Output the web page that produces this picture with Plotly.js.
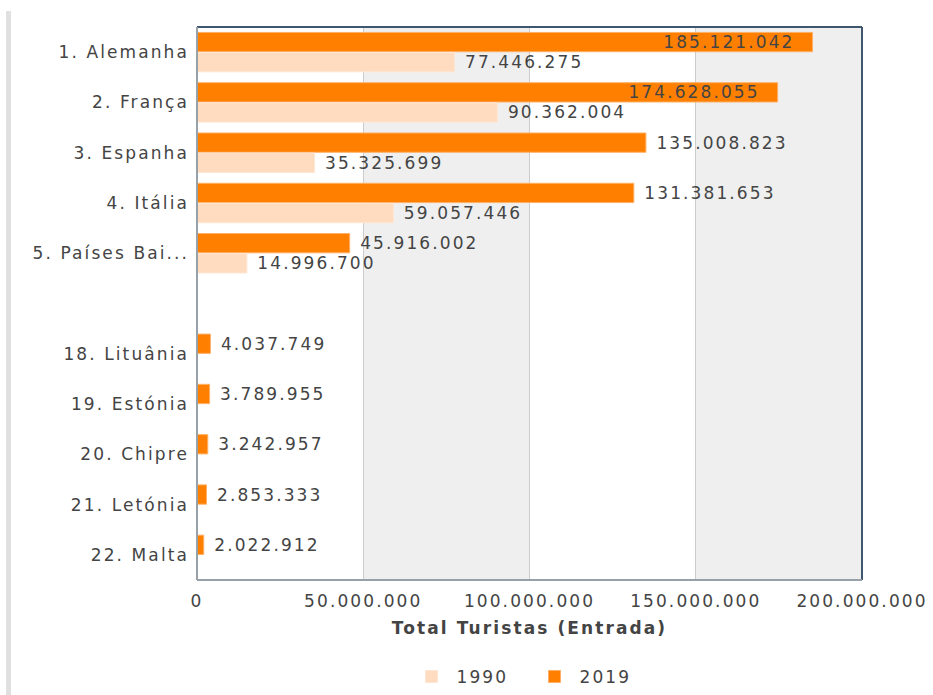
<!DOCTYPE html>
<html>
<head>
<meta charset="utf-8">
<script src="https://cdn.plot.ly/plotly-3.0.1.min.js"></script>
<style>
  html, body { margin: 0; padding: 0; background: #fff; }
  #wrap { position: relative; width: 933px; height: 695px; }
  #stripe { position: absolute; left: 6px; top: 11px; width: 5px; height: 684px; background: #e0e0e0; }
  #chart { position: absolute; left: 0; top: 0; width: 933px; height: 695px; }
  svg text { letter-spacing: 2.1px; }
</style>
</head>
<body>
<div id="wrap"><div id="stripe"></div><div id="chart"></div></div>
<script>
const categories = ['1. Alemanha', '2. França', '3. Espanha', '4. Itália', '5. Países Bai...', '\u00a0',
                    '18. Lituânia', '19. Estónia', '20. Chipre', '21. Letónia', '22. Malta'];
const values2019 = [185121042, 174628055, 135008823, 131381653, 45916002, null,
                    4037749, 3789955, 3242957, 2853333, 2022912];
const values1990 = [77446275, 90362004, 35325699, 59057446, 14996700, null,
                    null, null, null, null, null];
const seriesNames = ['2019', '1990'];
const xTicks = [0, 50000000, 100000000, 150000000, 200000000];

const textColor = '#444444';
const font = { family: 'DejaVu Sans, Verdana, sans-serif', size: 17, color: textColor };

const pos2019 = values2019.map(v => (v !== null && v > 160000000) ? 'inside' : 'outside');
const tmpl2019 = pos2019.map(p => p === 'inside' ? '%{x:,}\u00a0\u00a0' : '\u00a0%{x:,}');

const traces = [
  {
    type: 'bar', orientation: 'h', name: seriesNames[0],
    y: categories, x: values2019,
    marker: { color: '#ff8000', line: { color: '#ffb066', width: 1 } },
    texttemplate: tmpl2019, textposition: pos2019,
    insidetextanchor: 'end', constraintext: 'none',
    textfont: font, insidetextfont: font, outsidetextfont: font,
    cliponaxis: false, hoverinfo: 'x+y'
  },
  {
    type: 'bar', orientation: 'h', name: seriesNames[1],
    y: categories, x: values1990,
    marker: { color: '#ffdcc0', line: { color: '#ffe6d2', width: 1 } },
    texttemplate: '\u00a0%{x:,}', textposition: 'outside', constraintext: 'none',
    textfont: font, outsidetextfont: font,
    cliponaxis: false, hoverinfo: 'x+y'
  }
];

const bandShapes = [
  { x0: 50000000, x1: 100000000 },
  { x0: 150000000, x1: 200000000 }
].map(b => ({
  type: 'rect', xref: 'x', yref: 'paper', x0: b.x0, x1: b.x1, y0: 0, y1: 1,
  fillcolor: '#efefef', line: { width: 0 }, layer: 'below'
}));

const borderShapes = [
  { type: 'line', xref: 'paper', yref: 'paper', x0: 0, x1: 1, y0: 1, y1: 1, line: { color: '#3e566e', width: 2 }, layer: 'above' },
  { type: 'line', xref: 'paper', yref: 'paper', x0: 1, x1: 1, y0: 0, y1: 1, line: { color: '#3e566e', width: 2 }, layer: 'above' },
  { type: 'line', xref: 'paper', yref: 'paper', x0: 0, x1: 0, y0: 0, y1: 1, line: { color: '#98a0a8', width: 2 }, layer: 'above' },
  { type: 'line', xref: 'paper', yref: 'paper', x0: 0, x1: 1, y0: 0, y1: 0, line: { color: '#98a0a8', width: 2 }, layer: 'above' }
];

const layout = {
  width: 933, height: 695,
  margin: { l: 197, r: 71, t: 27, b: 115 },
  paper_bgcolor: 'rgba(0,0,0,0)',
  plot_bgcolor: '#ffffff',
  separators: ',.',
  font: font,
  barmode: 'group',
  bargap: 0.2,
  bargroupgap: 0.04,
  showlegend: true,
  legend: {
    orientation: 'h', x: 0.5, xanchor: 'center',
    yref: 'container', y: 0.026, yanchor: 'middle',
    traceorder: 'reversed', font: font, itemwidth: 40,
    entrywidth: 68, entrywidthmode: 'pixels'
  },
  xaxis: {
    range: [0, 200000000],
    tickvals: xTicks,
    tickformat: ',d',
    showgrid: true, gridcolor: '#cccccc', gridwidth: 1,
    zeroline: false, showline: false,
    ticks: '', ticklabelstandoff: 9,
    tickfont: font,
    title: { text: 'Total Turistas (Entrada)', font: { family: 'DejaVu Sans, Verdana, sans-serif', size: 17, color: textColor, weight: 'bold' }, standoff: 12 }
  },
  yaxis: {
    type: 'category',
    autorange: 'reversed',
    showgrid: false, zeroline: false, showline: false,
    ticks: '', ticklabelstandoff: 7,
    tickfont: font
  },
  shapes: bandShapes.concat(borderShapes)
};

Plotly.newPlot('chart', traces, layout, { displayModeBar: false, staticPlot: true });
</script>
</body>
</html>
